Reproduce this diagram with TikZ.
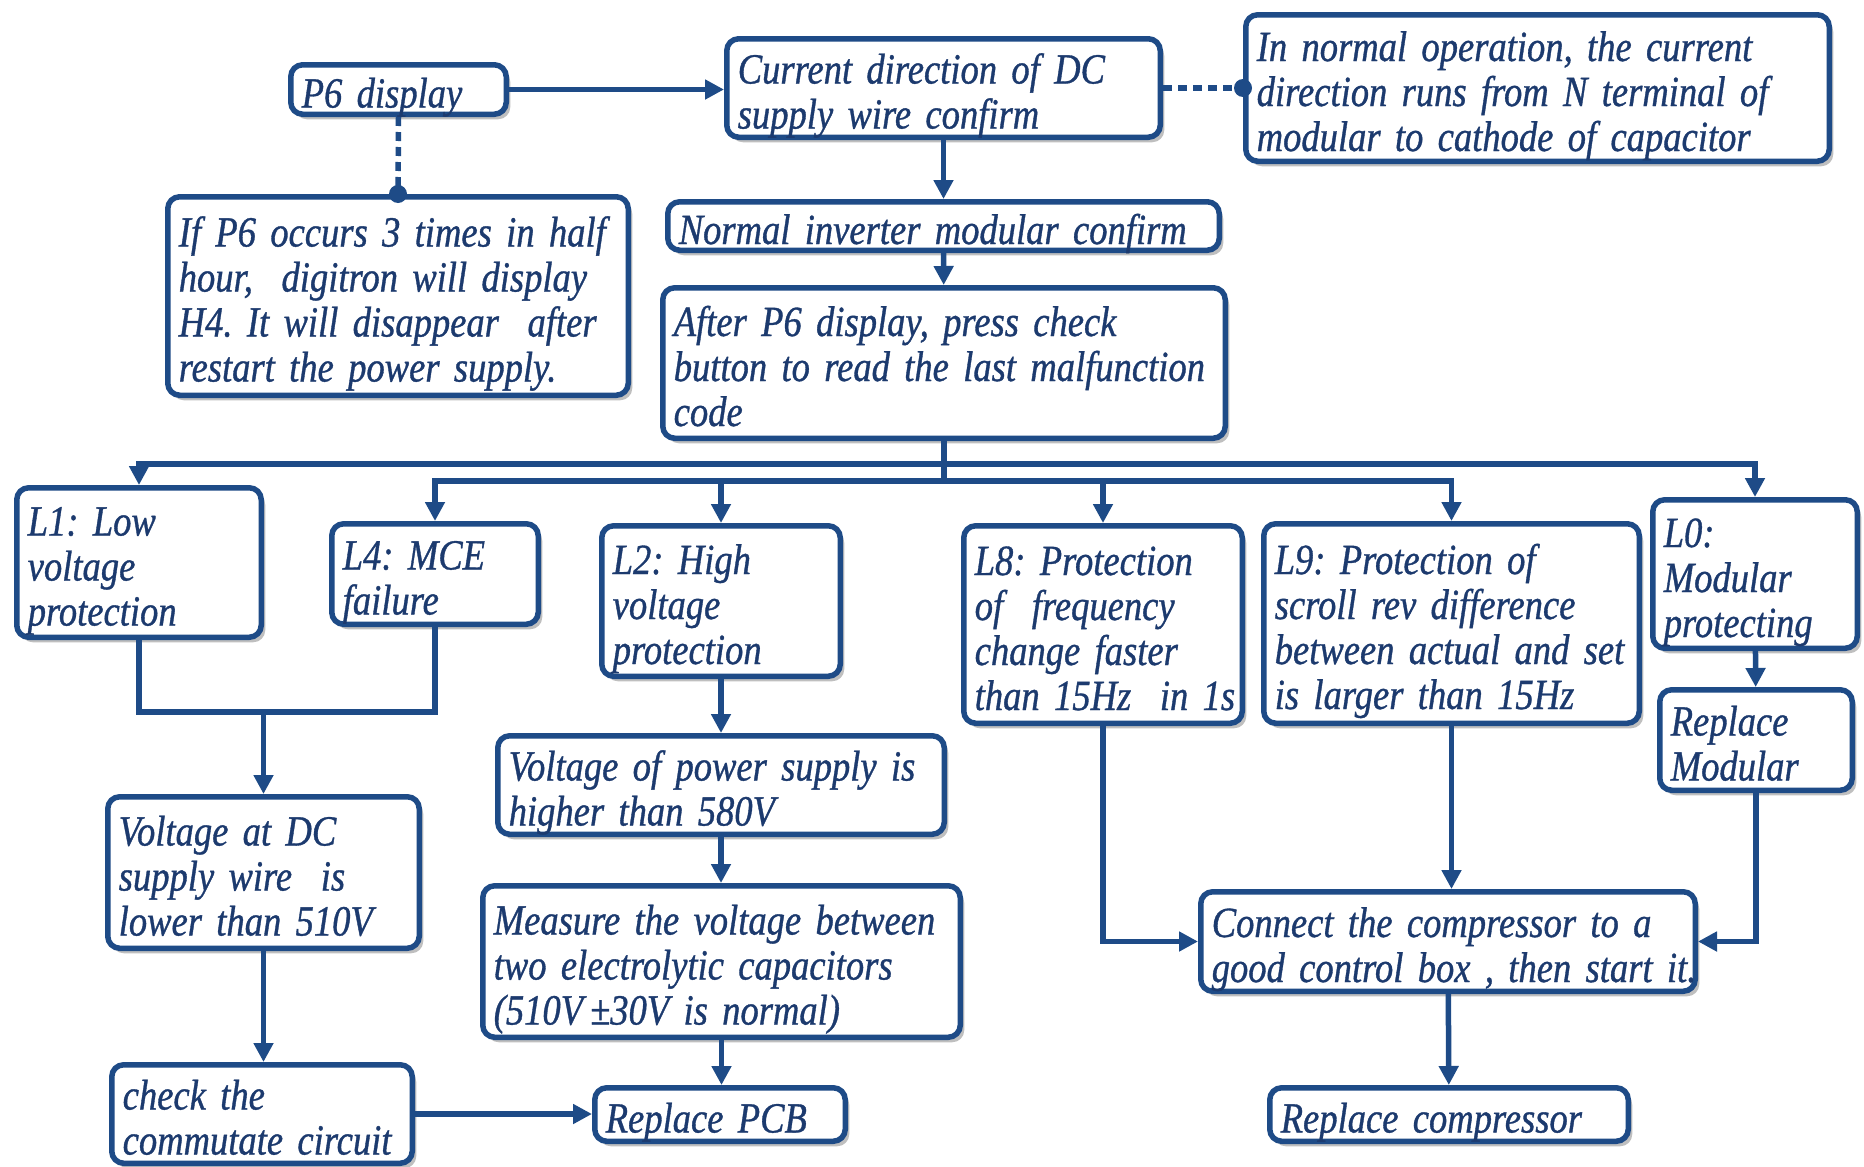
\documentclass[tikz,border=0pt]{standalone}
\usepackage{fontspec}
\setmainfont{Liberation Serif}[FakeStretch=0.85,FakeBold=0.8]
\usetikzlibrary{arrows.meta,shadows}
\definecolor{lc}{RGB}{30,75,135}
\definecolor{tc}{RGB}{28,58,110}
\newcommand\tfont{\itshape\fontsize{43}{45}\selectfont\frenchspacing}
\newcommand\tx[1]{\raisebox{-9pt}[\height][\depth]{\begin{tabular}{@{}l@{}}#1\end{tabular}}}
\begin{document}
\begin{tikzpicture}[x=1pt,y=-1pt,
 box/.style={draw=lc, line width=5.5pt, rounded corners=12pt, fill=white, text=tc, font=\tfont,
   align=left, inner xsep=11pt, inner ysep=0pt,
   drop shadow={shadow xshift=4pt,shadow yshift=-5pt,fill=black,opacity=0.25}},
 wh/.style 2 args={minimum width=#1-5.5, minimum height=#2-5.5, text width=#1-27.5},
 ln/.style={draw=lc, line width=5.5pt},
 arr/.style={ln, -{Triangle[length=19pt,width=19pt]}},
 dotln/.style={ln, dash pattern=on 9pt off 6pt},
]
\useasboundingbox (0,0) rectangle (1864,1167);
\fill[white] (0,0) rectangle (1864,1167);

\node[box,wh={221}{55}] (p6) at (398.5,89.5) {\tx{P6 display}};
\node[box,wh={439}{104}] (cur) at (943.5,88) {\tx{Current direction of DC\\supply wire confirm}};
\node[box,wh={589}{152}] (norm) at (1537.5,88) {\tx{In normal operation, the current\\direction runs from N terminal of\\modular to cathode of capacitor}};
\node[box,wh={466}{204}] (ifp6) at (398,296) {\tx{If P6 occurs 3 times in half\\hour,\ \ digitron will display\\H4. It will disappear\ \ after\\restart the power supply.}};
\node[box,wh={557}{54}] (inv) at (943.5,226) {\tx{Normal inverter modular confirm}};
\node[box,wh={568}{156}] (after) at (944,363) {\tx{After P6 display, press check\\button to read the last malfunction\\code}};
\node[box,wh={250}{155}] (L1) at (139,562.5) {\tx{L1: Low\\voltage\\protection}};
\node[box,wh={212}{106}] (L4) at (435,574) {\tx{L4: MCE\\failure}};
\node[box,wh={244}{156}] (L2) at (721,601) {\tx{L2: High\\voltage\\protection}};
\node[box,wh={284}{203}] (L8) at (1103,624.5) {\tx{L8: Protection\\of\ \ frequency\\change faster\\than 15Hz\ \ in 1s}};
\node[box,wh={381}{205}] (L9) at (1451.5,623.5) {\tx{L9: Protection of\\scroll rev difference\\between actual and set\\is larger than 15Hz}};
\node[box,wh={210}{154}] (L0) at (1755,574) {\tx{L0:\\Modular\\protecting}};
\node[box,wh={198}{106}] (repmod) at (1756,740) {\tx{Replace\\Modular}};
\node[box,wh={317}{157}] (vdc) at (263.5,872.5) {\tx{Voltage at DC\\supply wire\ \ is\\lower than 510V}};
\node[box,wh={452}{104}] (vps) at (721,785) {\tx{\makebox[424pt][s]{Voltage of power supply is}\\higher than 580V}};
\node[box,wh={483}{157}] (meas) at (721.5,961.5) {\tx{Measure the voltage between\\two electrolytic capacitors\\(510V\,±30V is normal)}};
\node[box,wh={306}{104}] (chk) at (262,1114) {\tx{check the\\commutate circuit}};
\node[box,wh={256}{59}] (pcb) at (720,1114.5) {\tx{Replace PCB}};
\node[box,wh={500}{105}] (conn) at (1448,941.5) {\tx{Connect the compressor to a\\good control box , then start it.}};
\node[box,wh={364}{59}] (repc) at (1449,1114.5) {\tx{Replace compressor}};

% top part
\draw[arr] (p6.east) -- (p6.east -| cur.west);
\draw[dotln] (p6.south) -- (ifp6.north);
\fill[lc] (ifp6.north) circle (9pt);
\draw[dotln] (cur.east) -- (norm.west);
\fill[lc] (norm.west) circle (9pt);
\draw[arr] (cur) -- (inv);
\draw[arr] (inv) -- (after);

% bus
\coordinate (busA) at (944,464);
\coordinate (busB) at (944,481);
\draw[ln] (after.south) -- (busB);
\draw[arr] (busA) -| (L1.north);
\draw[arr] (busA) -| (L0.north);
\draw[arr] (busB) -| (L4.north);
\draw[arr] (busB) -| (L2.north);
\draw[arr] (busB) -| (L8.north);
\draw[arr] (busB) -| (L9.north);

% left branch
\coordinate (mg) at (263.5,712);
\draw[ln] (L1.south) |- (mg);
\draw[ln] (L4.south) |- (mg);
\draw[arr] (mg) -- (vdc.north);
\draw[arr] (vdc.south) -- (vdc.south |- chk.north);
\draw[arr] (chk.east) -- (chk.east -| pcb.west);

% middle branch
\draw[arr] (L2.south) -- (L2.south |- vps.north);
\draw[arr] (vps.south) -- (vps.south |- meas.north);
\draw[arr] (meas.south) -- (meas.south |- pcb.north);

% right branch
\draw[arr] (L8.south) |- (conn.west);
\draw[arr] (L9.south) -- (L9.south |- conn.north);
\draw[arr] (L0) -- (repmod);
\draw[arr] (repmod.south) |- (conn.east);
\draw[arr] (conn) -- (repc);
\end{tikzpicture}
\end{document}
